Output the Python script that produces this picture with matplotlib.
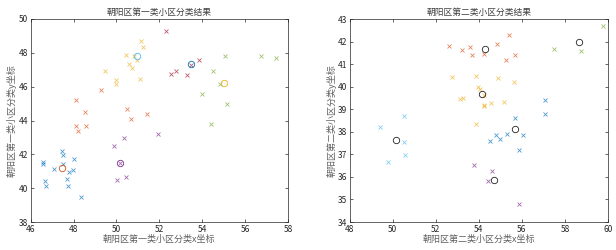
import numpy as np
import matplotlib
matplotlib.use('Agg')
import matplotlib.pyplot as plt

plt.rcParams['font.family'] = ['Noto Sans CJK SC', 'DejaVu Sans']
plt.rcParams['axes.unicode_minus'] = False

# MATLAB 默认配色
c_blue = '#0072BD'
c_orange = '#D95319'
c_yellow = '#EDB120'
c_purple = '#7E2F8E'
c_green = '#77AC30'
c_cyan = '#4DBEEE'
c_red = '#A2142F'

# ---- 第一类小区 ----
blue1_x = [46.59, 46.59, 47.47, 47.50, 47.53, 47.10, 48.03, 47.99, 47.79, 47.68, 46.65, 46.70, 47.74, 48.33]
blue1_y = [41.53, 41.41, 42.22, 41.96, 41.43, 41.11, 41.70, 41.07, 40.94, 40.52, 40.44, 40.11, 40.15, 39.46]
orange1_x = [48.13, 48.55, 48.11, 48.59, 48.20, 49.26, 50.50, 50.70, 51.42]
orange1_y = [45.19, 44.50, 43.66, 43.69, 43.38, 45.78, 44.70, 44.09, 44.40]
yellow1_x = [49.46, 49.98, 49.96, 50.43, 50.57, 50.72, 50.80, 50.95, 51.16, 51.25, 51.12]
yellow1_y = [46.91, 46.37, 46.16, 47.89, 47.34, 47.08, 47.79, 47.58, 48.72, 48.36, 46.45]
purple1_x = [49.87, 50.35, 51.93, 50.01, 50.44, 50.18]
purple1_y = [42.47, 42.97, 43.20, 40.48, 40.66, 41.50]
red1_x = [52.29, 52.54, 52.79, 53.27, 53.84, 53.48]
red1_y = [49.29, 46.75, 46.91, 46.69, 47.58, 47.31]
green1_x = [55.05, 54.48, 56.73, 57.46, 53.98, 55.14, 54.42, 54.85]
green1_y = [47.83, 46.95, 47.81, 47.71, 45.55, 45.00, 43.79, 46.16]
cent1_x = [47.44, 50.97, 50.16, 53.50, 55.00]
cent1_y = [41.17, 47.81, 41.51, 47.32, 46.22]
cent1_c = [c_orange, c_cyan, c_purple, c_blue, c_yellow]

# ---- 第二类小区 ----
cyan2_x = [49.39, 50.52, 50.52, 50.57, 49.80]
cyan2_y = [38.21, 38.68, 37.56, 36.96, 36.68]
orange2_x = [52.61, 53.22, 53.59, 53.68, 54.24, 54.84, 55.42, 55.28, 55.68]
orange2_y = [41.82, 41.64, 41.74, 41.39, 41.46, 41.88, 42.31, 41.20, 41.39]
yellow2_x = [52.75, 53.87, 53.96, 54.07, 54.26, 53.14, 53.28, 54.22, 54.24, 54.55, 55.17, 54.89, 55.65, 53.85]
yellow2_y = [40.41, 40.47, 40.00, 39.91, 39.63, 39.45, 39.48, 39.17, 39.14, 39.29, 39.32, 40.38, 40.19, 38.36]
blue2_x = [57.07, 57.07, 55.68, 54.78, 55.31, 55.00, 54.50, 56.05, 55.87]
blue2_y = [39.42, 38.80, 38.60, 37.86, 37.92, 37.67, 37.58, 37.87, 37.19]
purple2_x = [53.78, 54.63, 54.44, 55.88]
purple2_y = [36.51, 36.26, 35.82, 34.80]
green2_x = [59.75, 57.48, 58.76]
green2_y = [42.70, 41.66, 41.58]
cent2_x = [50.15, 54.29, 54.13, 55.70, 54.69, 58.65]
cent2_y = [37.62, 41.66, 39.66, 38.11, 35.85, 41.97]

fig = plt.figure(figsize=(6.16, 2.5), dpi=100)
ax1 = fig.add_axes([0.0498, 0.112, 0.4177, 0.812])
ax2 = fig.add_axes([0.5677, 0.112, 0.4193, 0.812])

ms = 3.0
mw = 0.6

for xs, ys, c in [(blue1_x, blue1_y, c_blue), (orange1_x, orange1_y, c_orange),
                  (yellow1_x, yellow1_y, c_yellow), (purple1_x, purple1_y, c_purple),
                  (red1_x, red1_y, c_red), (green1_x, green1_y, c_green)]:
    ax1.plot(xs, ys, 'x', color=c, markersize=ms, mew=mw, alpha=0.7)
for i in range(len(cent1_x)):
    ax1.plot(cent1_x[i], cent1_y[i], 'o', mfc='none', mec=cent1_c[i], markersize=4.6, mew=0.6)

for xs, ys, c in [(cyan2_x, cyan2_y, c_cyan), (orange2_x, orange2_y, c_orange),
                  (yellow2_x, yellow2_y, c_yellow), (blue2_x, blue2_y, c_blue),
                  (purple2_x, purple2_y, c_purple), (green2_x, green2_y, c_green)]:
    ax2.plot(xs, ys, 'x', color=c, markersize=ms, mew=mw, alpha=0.7)
ax2.plot(cent2_x, cent2_y, 'o', mfc='none', mec='#222222', markersize=4.6, mew=0.6)

ax1.set_xlim(46, 58)
ax1.set_ylim(38, 50)
ax1.set_xticks(range(46, 59, 2))
ax1.set_yticks(range(38, 51, 2))
ax1.set_title('朝阳区第一类小区分类结果', fontsize=6.3, color='#404040', pad=3)
ax1.set_xlabel('朝阳区第一类小区分类x坐标', fontsize=6.5, color='#606060', labelpad=1)
ax1.set_ylabel('朝阳区第一类小区分类y坐标', fontsize=6.5, color='#606060', labelpad=1)

ax2.set_xlim(48, 60)
ax2.set_ylim(34, 43)
ax2.set_xticks(range(48, 61, 2))
ax2.set_yticks(range(34, 44, 1))
ax2.set_title('朝阳区第二类小区分类结果', fontsize=6.3, color='#404040', pad=3)
ax2.set_xlabel('朝阳区第二类小区分类x坐标', fontsize=6.5, color='#606060', labelpad=1)
ax2.set_ylabel('朝阳区第二类小区分类y坐标', fontsize=6.5, color='#606060', labelpad=1)

for ax in [ax1, ax2]:
    ax.tick_params(direction='in', length=2, width=0.5, labelsize=6, colors='#262626',
                   top=True, right=True, pad=2)
    for s in ax.spines.values():
        s.set_linewidth(0.5)
        s.set_color('#262626')

fig.savefig('out.png', dpi=100)
